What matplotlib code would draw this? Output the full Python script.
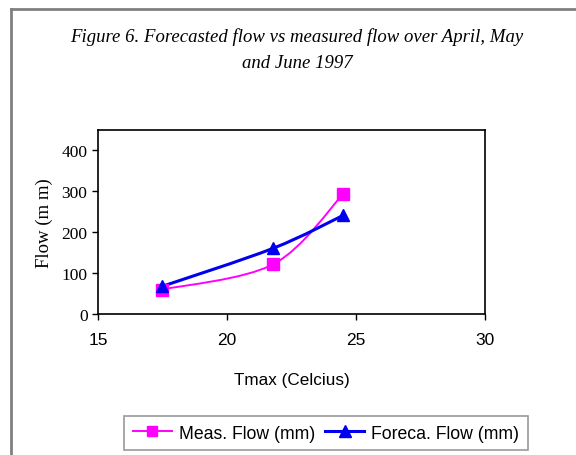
import matplotlib
matplotlib.use("Agg")
import matplotlib.pyplot as plt
import numpy as np
from matplotlib.path import Path
from matplotlib.patches import PathPatch
from matplotlib.lines import Line2D

# data
tmax = [17.5, 21.8, 24.5]
meas_flow = [60, 122, 293]
fore_flow = [68, 161, 241]


def smooth_path(x, y):
    # Excel-like smoothed line: bezier segments through the points
    pts = np.column_stack([x, y]).astype(float)
    n = len(pts)
    verts = [pts[0]]
    codes = [Path.MOVETO]
    for i in range(n - 1):
        p_prev = pts[i - 1] if i > 0 else pts[i]
        p_next2 = pts[i + 2] if i + 2 < n else pts[i + 1]
        c1 = pts[i] + (pts[i + 1] - p_prev) / 6
        c2 = pts[i + 1] - (p_next2 - pts[i]) / 6
        verts += [c1, c2, pts[i + 1]]
        codes += [Path.CURVE4] * 3
    return Path(verts, codes)


fig = plt.figure(figsize=(5.76, 4.56), dpi=100)
ax = fig.add_axes([0.170, 0.309, 0.672, 0.404])

ax.add_patch(PathPatch(smooth_path(tmax, meas_flow), fill=False,
                       edgecolor="#ff00ff", lw=1.4))
ax.add_patch(PathPatch(smooth_path(tmax, fore_flow), fill=False,
                       edgecolor="#0000ee", lw=2.2))
ax.plot(tmax, meas_flow, ls="none", marker="s", ms=8, color="#ff00ff")
ax.plot(tmax, fore_flow, ls="none", marker="^", ms=9, color="#0000ee")

ax.set_xlim(15, 30)
ax.set_ylim(0, 450)
ax.set_xticks([15, 20, 25, 30])
ax.set_yticks([0, 100, 200, 300, 400])
ax.tick_params(direction="out", length=4, width=1)
for lab in ax.get_yticklabels():
    lab.set_fontfamily("Liberation Serif")
    lab.set_fontsize(12.5)
for lab in ax.get_xticklabels():
    lab.set_fontfamily("Liberation Sans")
    lab.set_fontsize(12.5)
ax.tick_params(axis="x", pad=9)
for s in ax.spines.values():
    s.set_linewidth(1.2)

ax.set_xlabel("Tmax (Celcius)", fontfamily="Liberation Sans", fontsize=12.3, labelpad=18)
ax.set_ylabel("Flow (m m)", fontfamily="Liberation Serif", fontsize=13.5, labelpad=6)

fig.text(0.516, 0.890, "Figure 6. Forecasted flow vs measured flow over April, May\nand June 1997",
         ha="center", va="center", fontfamily="Liberation Serif", style="italic",
         fontsize=13.5, linespacing=1.65)

handles = [
    Line2D([], [], color="#ff00ff", lw=1.4, marker="s", ms=7),
    Line2D([], [], color="#0000ee", lw=2.2, marker="^", ms=8),
]
leg = fig.legend(handles, ["Meas. Flow (mm)", "Foreca. Flow (mm)"], ncol=2,
                 loc="center", bbox_to_anchor=(0.566, 0.048),
                 prop={"family": "Liberation Sans", "size": 12.7},
                 frameon=True, fancybox=False, handlelength=2.2,
                 columnspacing=0.6, handletextpad=0.4, borderpad=0.5)
leg.get_frame().set_edgecolor("#808080")
leg.get_frame().set_linewidth(1.2)

# outer chart frame (only top and left show in the crop)
fig.add_artist(Line2D([0.019, 0.019], [0.0, 0.978], color="#808080", lw=2,
                      transform=fig.transFigure))
fig.add_artist(Line2D([0.019, 1.0], [0.978, 0.978], color="#808080", lw=2,
                      transform=fig.transFigure))

fig.savefig("out.png", dpi=100)
